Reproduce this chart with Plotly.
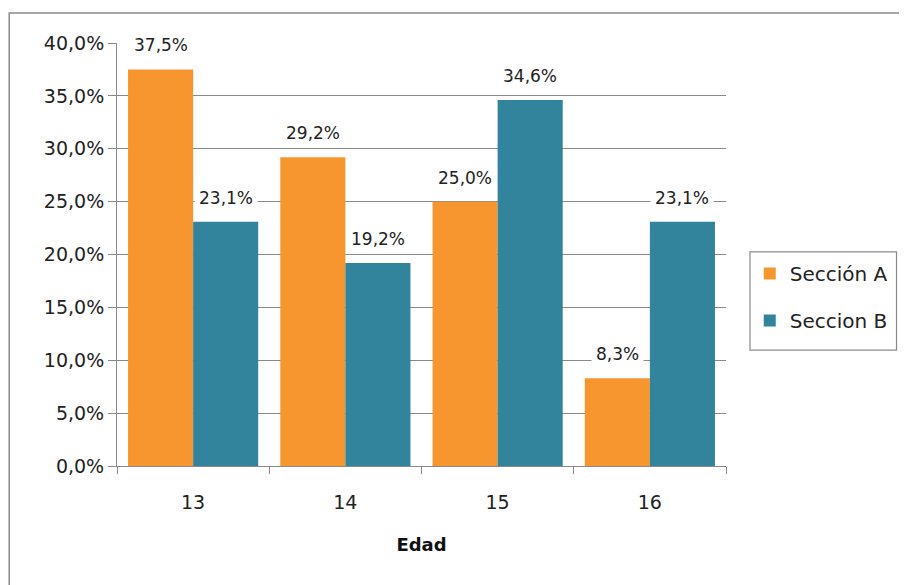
import plotly.graph_objects as go

categories = ["13", "14", "15", "16"]
seccion_a = [0.375, 0.292, 0.250, 0.083]
seccion_b = [0.231, 0.192, 0.346, 0.231]
series_names = ["Sección A", "Seccion B"]
y_ticks = [0, 0.05, 0.10, 0.15, 0.20, 0.25, 0.30, 0.35, 0.40]

orange = "#F7962F"
teal = "#31849B"
grey = "#8A8A8A"
font_family = "DejaVu Sans"

fig = go.Figure()
fig.add_trace(go.Bar(x=categories, y=seccion_a, name=series_names[0],
                     marker=dict(color=orange, line=dict(width=0)),
                     legendgroup="a"))
fig.add_trace(go.Bar(x=categories, y=seccion_b, name=series_names[1],
                     marker=dict(color=teal, line=dict(width=0)),
                     legendgroup="b"))

# Data labels with white background (cut through gridlines)
annotations = []
for vals, shift in ((seccion_a, -32.5), (seccion_b, 32.5)):
    for i, v in enumerate(vals):
        annotations.append(dict(
            x=i, y=v, xref="x", yref="y",
            text=f"{v*100:.1f}%".replace(".", ","),
            showarrow=False, xshift=shift, yshift=24,
            yanchor="middle", xanchor="center",
            bgcolor="white", borderpad=4,
            font=dict(family=font_family, size=17, color="#222222")))

fig.update_layout(
    width=899, height=577,
    margin=dict(l=109, r=181, t=35, b=119, autoexpand=False),
    paper_bgcolor="white", plot_bgcolor="white",
    separators=",.",
    barmode="group", bargap=0.145, bargroupgap=0,
    font=dict(family=font_family, size=18, color="#222222"),
    showlegend=True,
    legend=dict(x=1.039, y=0.501, xanchor="left", yanchor="top",
                borderwidth=0, bgcolor="rgba(0,0,0,0)",
                font=dict(family=font_family, size=20, color="#222222"),
                traceorder="grouped", tracegroupgap=18),
    annotations=annotations,
    shapes=[
        dict(type="rect", xref="paper", yref="paper",
             x0=-0.177, x1=1.40, y0=-0.40, y1=1.071,
             line=dict(color=grey, width=1.5), layer="below"),
        dict(type="rect", xref="paper", yref="paper",
             x0=1.0394, x1=1.280, y0=0.274, y1=0.506,
             line=dict(color=grey, width=1.2), fillcolor="white", layer="below"),
    ],
    xaxis=dict(
        type="category", range=[-0.5, 3.5],
        title=dict(text="<b>Edad</b>", font=dict(family=font_family, size=18, color="#111111"),
                   standoff=26),
        showline=True, linecolor=grey, linewidth=1,
        ticks="outside", tickson="boundaries", ticklen=7, tickcolor=grey,
        ticklabelstandoff=19,
        tickfont=dict(family=font_family, size=19, color="#222222"),
        tickangle=0,
        showgrid=False,
    ),
    yaxis=dict(
        range=[0, 0.40], tickvals=y_ticks, tickformat=".1%",
        showline=True, linecolor=grey, linewidth=1,
        ticks="outside", ticklen=8, tickcolor=grey,
        showgrid=True, gridcolor=grey, gridwidth=1,
        tickfont=dict(family=font_family, size=19, color="#222222"),
        zeroline=False,
    ),
)

fig.write_html("out.html")
